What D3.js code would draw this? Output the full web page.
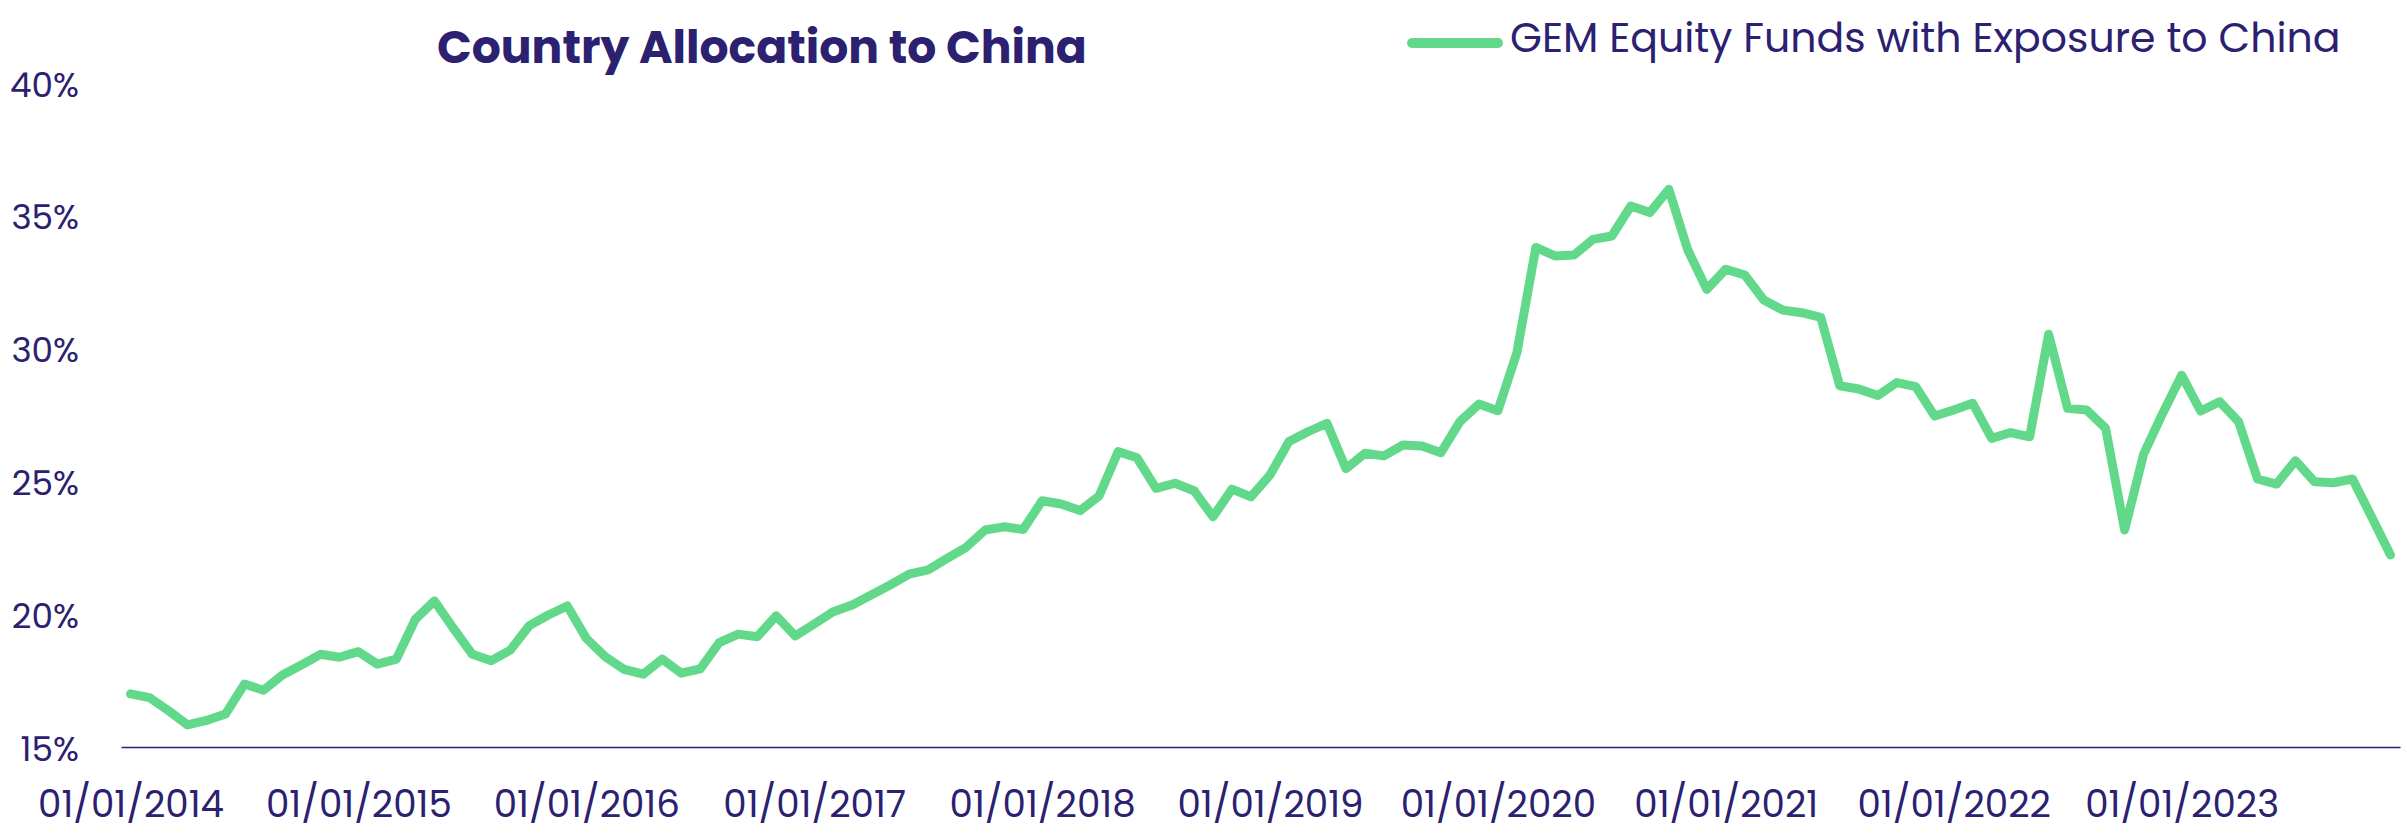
<!DOCTYPE html>
<html><head><meta charset="utf-8">
<script src="https://cdn.jsdelivr.net/npm/d3@7"></script>
<style>html,body{margin:0;padding:0;background:#fff;} svg{display:block;}</style>
</head><body>
<svg id="chart" width="2407" height="838"></svg>
<script>
// ---- data ----
const years = [2014, 2015, 2016, 2017, 2018, 2019, 2020, 2021, 2022, 2023];
const allocation = [
  17.00, 16.86, 16.37, 15.83, 16.00, 16.24, 17.37, 17.14, 17.71, 18.09, 18.49, 18.38,
  18.59, 18.12, 18.31, 19.81, 20.50, 19.47, 18.49, 18.25, 18.65, 19.57, 19.97, 20.31,
  19.09, 18.40, 17.92, 17.74, 18.31, 17.78, 17.94, 18.93, 19.25, 19.15, 19.94, 19.18,
  19.63, 20.09, 20.35, 20.72, 21.10, 21.51, 21.67, 22.10, 22.52, 23.17, 23.29, 23.19,
  24.27, 24.15, 23.90, 24.45, 26.12, 25.89, 24.74, 24.93, 24.65, 23.67, 24.71, 24.42,
  25.24, 26.50, 26.87, 27.19, 25.48, 26.06, 25.96, 26.37, 26.33, 26.08, 27.25, 27.91,
  27.66, 29.85, 33.81, 33.49, 33.52, 34.11, 34.24, 35.37, 35.12, 36.00, 33.71, 32.23,
  32.99, 32.77, 31.83, 31.45, 31.35, 31.18, 28.60, 28.48, 28.23, 28.72, 28.57, 27.46,
  27.69, 27.94, 26.62, 26.84, 26.68, 30.54, 27.75, 27.69, 27.00, 23.17, 26.03, 27.56,
  29.00, 27.65, 28.00, 27.25, 25.09, 24.90, 25.78, 24.99, 24.95, 25.09, 23.67, 22.23
];
const yTicks = [15, 20, 25, 30, 35, 40];
const xTickLabels = ["01/01/2014","01/01/2015","01/01/2016","01/01/2017","01/01/2018",
                     "01/01/2019","01/01/2020","01/01/2021","01/01/2022","01/01/2023"];
const titleText = "Country Allocation to China";
const seriesName = "GEM Equity Funds with Exposure to China";

// ---- categories (months) ----
const months = [];
years.forEach(y => { for (let m = 1; m <= 12; m++) months.push(`${y}-${String(m).padStart(2, "0")}`); });
const series = months.map((k, i) => ({ key: k, value: allocation[i] }));
const januaryKeys = years.map(y => `${y}-01`);

// ---- style ----
const NAVY = "#2b2170";
const GREEN = "#62d98a";
const FONT = "Poppins, Inter, 'Open Sans', sans-serif";

const svg = d3.select("#chart");

const x = d3.scalePoint().domain(months).range([121, 2400]).padding(0.5);
const y = d3.scaleLinear().domain([15, 40]).range([747, 83]);

function fitWidth(sel, target) {
  const w = sel.node().getComputedTextLength();
  const fs = parseFloat(sel.attr("font-size"));
  const nfs = fs * target / w;
  sel.attr("font-size", nfs);
  return nfs;
}

// x axis
const xAxis = d3.axisBottom(x)
  .tickValues(januaryKeys)
  .tickFormat((d, i) => xTickLabels[i])
  .tickSize(0)
  .tickPadding(0);
const gx = svg.append("g").attr("transform", `translate(0,${y(15)})`).call(xAxis);
gx.select(".domain").attr("stroke", NAVY).attr("stroke-width", 1.5);
const xt = gx.selectAll(".tick text")
  .attr("fill", NAVY).attr("font-family", FONT).attr("font-size", 36)
  .attr("y", 70).attr("dy", 0);
const xfs = fitWidth(d3.select(xt.nodes()[0]), 186);
xt.attr("font-size", xfs);

// y axis labels
const yAxis = d3.axisLeft(y).tickValues(yTicks).tickFormat(d => d + "%").tickSize(0).tickPadding(0);
const gy = svg.append("g").attr("transform", "translate(79,0)").call(yAxis);
gy.select(".domain").remove();
const yt = gy.selectAll(".tick text")
  .attr("fill", NAVY).attr("font-family", FONT).attr("font-size", 36)
  .attr("x", 0).attr("dy", 0).attr("y", 13);
const ynodes = yt.nodes();
const yfs = fitWidth(d3.select(ynodes[ynodes.length - 1]), 69);
yt.attr("font-size", yfs);

// line
const line = d3.line().x(d => x(d.key)).y(d => y(d.value));
svg.append("path").datum(series)
  .attr("d", line)
  .attr("fill", "none")
  .attr("stroke", GREEN)
  .attr("stroke-width", 9)
  .attr("stroke-linejoin", "round")
  .attr("stroke-linecap", "round");

// title
const t = svg.append("text").text(titleText)
  .attr("x", 437).attr("y", 63)
  .attr("fill", NAVY).attr("font-family", FONT).attr("font-weight", 700).attr("font-size", 46);
fitWidth(t, 650);

// legend
svg.append("line").attr("x1", 1412).attr("x2", 1498).attr("y1", 43).attr("y2", 43)
  .attr("stroke", GREEN).attr("stroke-width", 10).attr("stroke-linecap", "round");
const lt = svg.append("text").text(seriesName)
  .attr("x", 1510).attr("y", 52)
  .attr("fill", NAVY).attr("font-family", FONT).attr("font-size", 36);
fitWidth(lt, 831);
</script>
</body></html>
